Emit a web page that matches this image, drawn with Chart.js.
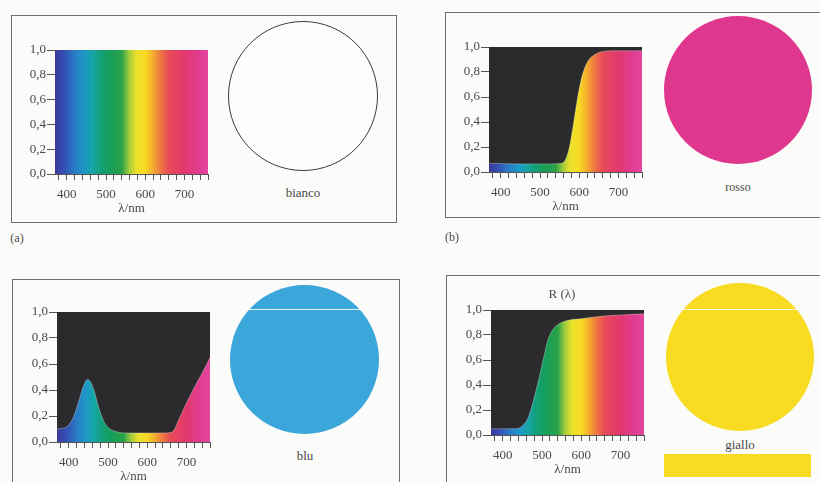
<!DOCTYPE html>
<html>
<head>
<meta charset="utf-8">
<script src="https://cdn.jsdelivr.net/npm/chart.js@4.4.1/dist/chart.umd.min.js"></script>
<style>
  body { margin: 0; width: 820px; height: 482px; overflow: hidden; position: relative; background: #fbfbf9; font-family: "Liberation Serif", "DejaVu Serif", serif; color: #4a4a4a; }
  .box { position: absolute; border: 1px solid #6e6e6e; box-sizing: border-box; }
  .disc { position: absolute; border-radius: 50%; box-sizing: border-box; }
  .lbl { position: absolute; font-size: 13px; transform: translate(-50%, -50%); white-space: nowrap; }
  .scan { position: absolute; height: 1px; background: rgba(255,255,255,0.85); }
  canvas { position: absolute; }
</style>
</head>
<body>
<div class="box" style="left:11px;top:15px;width:386px;height:208px"></div>
<div class="box" style="left:445px;top:12px;width:390px;height:206px"></div>
<div class="box" style="left:12px;top:279px;width:388px;height:220px"></div>
<div class="box" style="left:446px;top:275px;width:390px;height:220px"></div>

<canvas id="chartBianco"></canvas>
<canvas id="chartRosso"></canvas>
<canvas id="chartBlu"></canvas>
<canvas id="chartGiallo"></canvas>

<div class="disc" style="left:228px;top:21px;width:150px;height:150px;border:1px solid #3a3a3a;background:#fdfdfc"></div>
<div class="disc" style="left:664px;top:16px;width:148px;height:148px;background:#e0378e"></div>
<div class="disc" style="left:230px;top:285px;width:149px;height:149px;background:#3ba6d9"></div>
<div class="disc" style="left:666px;top:283px;width:148px;height:148px;background:#f9dc22"></div>
<div class="scan" style="left:247px;top:309px;width:114px"></div>
<div class="scan" style="left:680px;top:309px;width:119px"></div>
<div style="position:absolute;left:664px;top:454px;width:147px;height:23px;background:#f9dc22"></div>

<div class="lbl" style="left:303px;top:193px">bianco</div>
<div class="lbl" style="left:738px;top:187px;font-size:12px">rosso</div>
<div class="lbl" style="left:305px;top:456px">blu</div>
<div class="lbl" style="left:740px;top:445px">giallo</div>
<div class="lbl" style="left:562px;top:294px">R (λ)</div>
<div class="lbl" style="left:17px;top:238px;font-size:12px">(a)</div>
<div class="lbl" style="left:452px;top:237px;font-size:12px">(b)</div>

<script>
// wavelength axis
const tickNm = [380, 400, 420, 440, 460, 480, 500, 520, 540, 560, 580, 600, 620, 640, 660, 680, 700, 720, 740, 760];
const labelNm = [400, 500, 600, 700];
const yTicks = [0, 0.2, 0.4, 0.6, 0.8, 1.0];

// spectrum colours along the wavelength axis
const spectrumNm = [370, 395, 420, 445, 465, 485, 510, 540, 560, 578, 600, 618, 638, 660, 700, 735, 760];
const spectrumColors = ['#3b3a98', '#3252b6', '#2a7cc6', '#1c98c6', '#16a6a6', '#12a07a', '#169e58', '#2aa24a',
  '#a8cf3a', '#eee02a', '#f7da22', '#f5b02c', '#ee7a40', '#e84a58', '#e2386e', '#e03c90', '#e4469f'];

// reflectance curves R(λ)
const biancoNm = [370, 760];
const biancoR = [1.0, 1.0];

const rossoNm = [370, 450, 530, 555, 565, 575, 585, 595, 605, 615, 625, 640, 660, 700, 760];
const rossoR = [0.07, 0.065, 0.065, 0.07, 0.1, 0.2, 0.38, 0.58, 0.74, 0.84, 0.9, 0.94, 0.965, 0.97, 0.97];

const bluNm = [370, 390, 400, 410, 420, 430, 440, 448, 456, 465, 475, 485, 495, 505, 520, 540, 600, 650, 665, 680, 700, 720, 740, 760];
const bluR = [0.1, 0.11, 0.13, 0.18, 0.26, 0.36, 0.45, 0.48, 0.46, 0.39, 0.28, 0.19, 0.13, 0.1, 0.08, 0.07, 0.07, 0.07, 0.08, 0.17, 0.3, 0.42, 0.53, 0.65];

const gialloNm = [370, 430, 445, 455, 465, 475, 485, 495, 505, 515, 525, 535, 550, 570, 600, 650, 700, 760];
const gialloR = [0.05, 0.05, 0.06, 0.09, 0.14, 0.24, 0.36, 0.49, 0.63, 0.76, 0.83, 0.87, 0.9, 0.92, 0.93, 0.95, 0.96, 0.97];

const darkBg = {
  id: 'darkBg',
  beforeDatasetsDraw(chart, args, opts) {
    if (!opts.color) return;
    const a = chart.chartArea;
    chart.ctx.save();
    chart.ctx.fillStyle = opts.color;
    chart.ctx.fillRect(a.left, a.top, a.right - a.left, a.bottom - a.top);
    chart.ctx.restore();
  }
};

function spectrumFill(c) {
  const chart = c.chart;
  const a = chart.chartArea;
  if (!a) return 'transparent';
  const xs = chart.scales.x;
  const g = chart.ctx.createLinearGradient(a.left, 0, a.right, 0);
  spectrumNm.forEach((n, i) => {
    const t = (xs.getPixelForValue(n) - a.left) / (a.right - a.left);
    g.addColorStop(Math.min(1, Math.max(0, t)), spectrumColors[i]);
  });
  return g;
}

function makePanel(id, area, nm, r, dark) {
  const padL = 45, padT = 10, padR = 6, axisH = 42;
  const cv = document.getElementById(id);
  cv.width = area.right - area.left + padL + padR;
  cv.height = area.bottom - area.top + padT + axisH;
  cv.style.left = (area.left - padL) + 'px';
  cv.style.top = (area.top - padT) + 'px';

  const font = { family: '"Liberation Serif", serif', size: 13 };
  new Chart(cv, {
    type: 'line',
    data: {
      datasets: [{
        data: nm.map((n, i) => ({ x: n, y: r[i] })),
        fill: 'origin',
        backgroundColor: spectrumFill,
        borderColor: dark ? 'rgba(255,255,255,0.3)' : 'rgba(0,0,0,0)',
        borderWidth: 1,
        pointRadius: 0,
        cubicInterpolationMode: 'monotone'
      }]
    },
    options: {
      responsive: false,
      animation: false,
      events: [],
      layout: { padding: { left: 0, top: padT, right: padR, bottom: 0 } },
      plugins: { legend: { display: false }, tooltip: { enabled: false }, darkBg: { color: dark ? '#2b2b2d' : null } },
      scales: {
        x: {
          type: 'linear', min: 370, max: 760,
          afterBuildTicks: (s) => { s.ticks = tickNm.map(v => ({ value: v })); },
          afterFit: (s) => { s.height = axisH; },
          ticks: {
            autoSkip: false, maxRotation: 0, padding: 7, color: '#4a4a4a', font: font,
            callback: (v) => labelNm.includes(v) ? String(v) : ''
          },
          grid: { drawOnChartArea: false, drawTicks: true, tickLength: 6, color: '#555' },
          border: { display: true, color: '#555' },
          title: { display: true, text: 'λ/nm', color: '#4a4a4a', font: font, padding: { top: 0, bottom: 0 } }
        },
        y: {
          min: 0, max: 1,
          afterBuildTicks: (s) => { s.ticks = yTicks.map(v => ({ value: v })); },
          afterFit: (s) => { s.width = padL; },
          ticks: { padding: 1, color: '#4a4a4a', font: font, callback: (v) => v.toFixed(1).replace('.', ',') },
          grid: { drawOnChartArea: false, drawTicks: true, tickLength: 8, color: '#555' },
          border: { display: true, color: '#555' }
        }
      }
    },
    plugins: [darkBg]
  });
}

makePanel('chartBianco', { left: 55, top: 50, right: 209, bottom: 174 }, biancoNm, biancoR, false);
makePanel('chartRosso', { left: 489, top: 47, right: 643, bottom: 172 }, rossoNm, rossoR, true);
makePanel('chartBlu', { left: 57, top: 312, right: 211, bottom: 442 }, bluNm, bluR, true);
makePanel('chartGiallo', { left: 491, top: 310, right: 645, bottom: 435 }, gialloNm, gialloR, true);
</script>
</body>
</html>
